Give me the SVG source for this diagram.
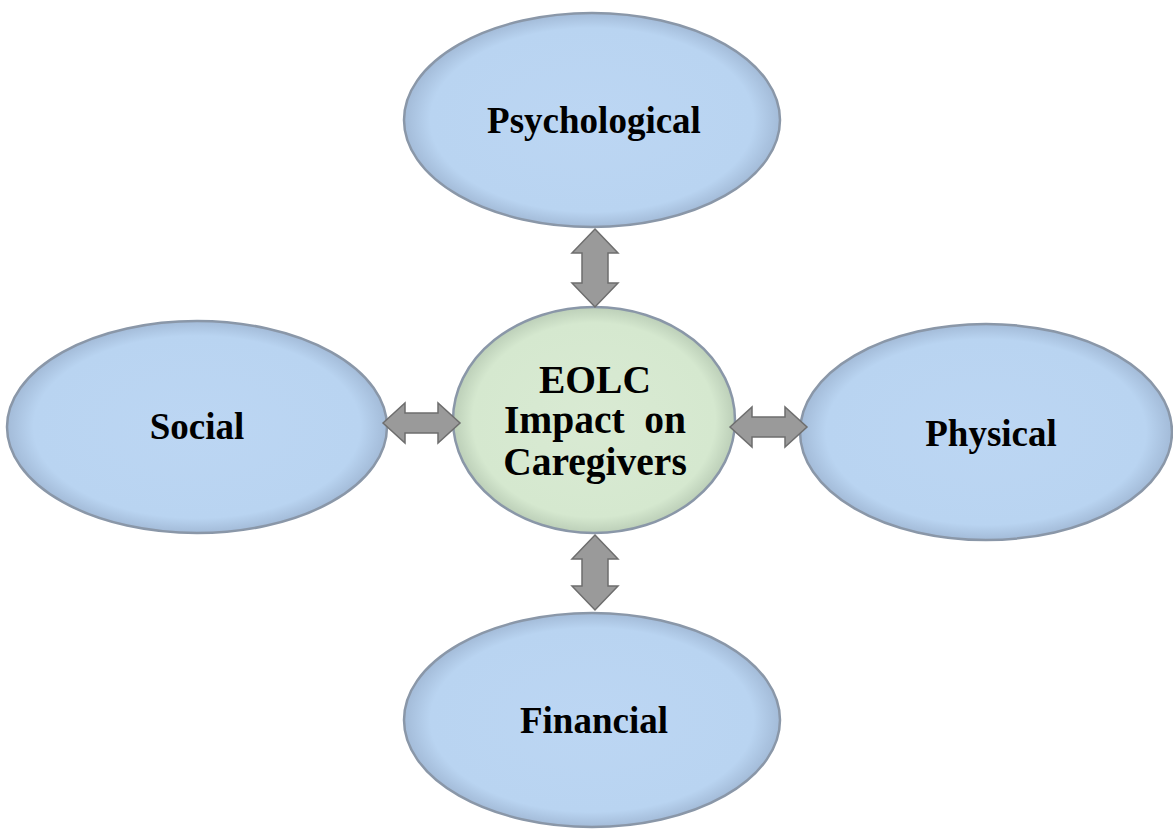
<svg xmlns="http://www.w3.org/2000/svg" width="1173" height="830" viewBox="0 0 1173 830">
<defs>
<radialGradient id="gBlue" cx="50%" cy="50%" r="50%">
<stop offset="0" stop-color="#bcd6f3"/>
<stop offset="0.86" stop-color="#b9d4f1"/>
<stop offset="1" stop-color="#a3bbd8"/>
</radialGradient>
<radialGradient id="gGreen" cx="50%" cy="50%" r="50%">
<stop offset="0" stop-color="#d9ead3"/>
<stop offset="0.86" stop-color="#d5e8cf"/>
<stop offset="1" stop-color="#bccfb8"/>
</radialGradient>
</defs>
<style>
.blue{fill:url(#gBlue);stroke:#8a97a8;stroke-width:2.5}
.green{fill:url(#gGreen);stroke:#8a97a8;stroke-width:2.5}
.lbl{font-family:"Liberation Serif","Times New Roman",serif;font-weight:bold;font-size:37px;fill:#000;text-anchor:middle}
.clbl{font-family:"Liberation Serif","Times New Roman",serif;font-weight:bold;font-size:39.5px;fill:#000;text-anchor:middle}
.arr{fill:#9a9a9a;stroke:#6e6e6e;stroke-width:1.5;stroke-linejoin:miter}
</style>
<rect width="1173" height="830" fill="#ffffff"/>
<g id="psychological">
<ellipse class="blue" cx="592" cy="120" rx="188" ry="107"/>
<text class="lbl" x="594" y="133">Psychological</text>
</g>
<g id="social">
<ellipse class="blue" cx="197" cy="427" rx="190" ry="106"/>
<text class="lbl" x="197" y="439">Social</text>
</g>
<g id="physical">
<ellipse class="blue" cx="986" cy="432" rx="186" ry="108"/>
<text class="lbl" x="991" y="446">Physical</text>
</g>
<g id="financial">
<ellipse class="blue" cx="592" cy="720" rx="188" ry="107"/>
<text class="lbl" x="594" y="733">Financial</text>
</g>
<g id="center">
<ellipse class="green" cx="594" cy="420" rx="141" ry="113"/>
<text class="clbl" x="595" y="393">EOLC</text>
<text class="clbl" x="595" y="433" xml:space="preserve">Impact  on</text>
<text class="clbl" x="595" y="475">Caregivers</text>
</g>
<g id="connectors">
<polygon class="arr" points="595,229 618,253 608,253 608,283 618,283 595,307 572,283 582,283 582,253 572,253"/>
<polygon class="arr" points="595,535 618,559 608,559 608,586 618,586 595,610 572,586 582,586 582,559 572,559"/>
<polygon class="arr" points="383,423 405,403 405,413 438,413 438,403 460,423 438,443 438,433 405,433 405,443"/>
<polygon class="arr" points="730,427 752,407 752,417 785,417 785,407 807,427 785,447 785,437 752,437 752,447"/>
</g>
</svg>
